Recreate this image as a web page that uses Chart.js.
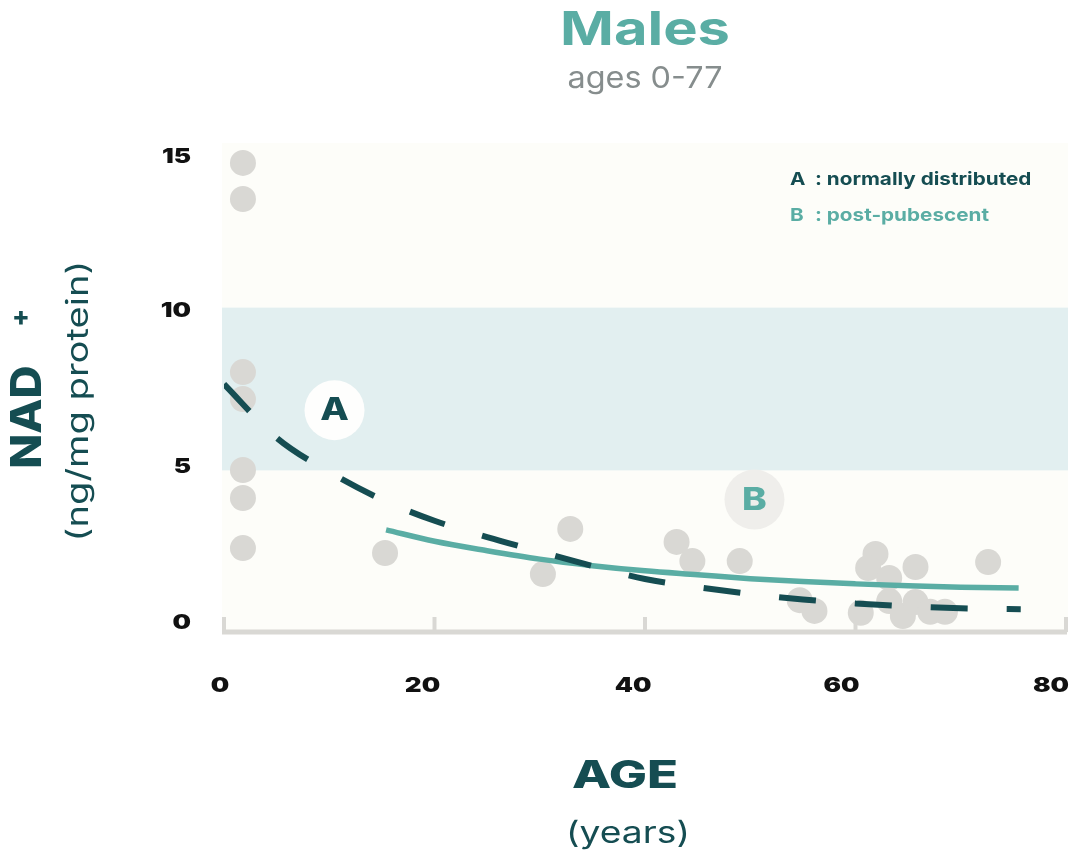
<!DOCTYPE html>
<html>
<head>
<meta charset="utf-8">
<title>Males NAD+ by age</title>
<script src="https://cdn.jsdelivr.net/npm/chart.js@4.4.0/dist/chart.umd.min.js"></script>
<style>
  html, body { margin: 0; padding: 0; background: #ffffff; }
  #wrap { width: 1069px; height: 856px; }
</style>
</head>
<body>
<div id="wrap"><canvas id="myChart" width="1069" height="856"></canvas></div>
<script>
// measured samples: age (years) and NAD+ (ng/mg protein)
var pointAges = [1.8, 1.8, 1.8, 1.8, 1.8, 1.8, 1.8, 15.3, 30.3, 32.9, 43.0, 44.5, 49.0,
                 54.7, 56.1, 60.5, 61.9, 61.2, 63.2, 65.7, 63.2, 64.5, 65.7, 67.1, 68.5, 72.6]
var pointNad = [14.45, 13.34, 8.02, 7.19, 5.01, 4.15, 2.61, 2.46, 1.81, 3.20, 2.80, 2.21, 2.21,
                1.01, 0.68, 0.62, 2.43, 2.00, 1.69, 2.03, 0.98, 0.52, 0.95, 0.65, 0.65, 2.18]

// curve A : normally distributed (dashed)
var curveAAges = [0, 5, 10, 15, 20, 25, 30, 35, 40, 45, 50, 55, 60, 65, 70, 75.7]
var curveANad = [7.65, 6.0, 4.95, 4.1, 3.45, 2.95, 2.5, 2.06, 1.66, 1.41, 1.2, 1.03, 0.91, 0.82, 0.76, 0.73]

// curve B : post-pubescent (solid)
var curveBAges = [15.4, 20, 25, 30, 35, 40, 45, 50, 55, 60, 65, 70, 75.5]
var curveBNad = [3.17, 2.82, 2.53, 2.27, 2.07, 1.91, 1.79, 1.67, 1.58, 1.51, 1.45, 1.41, 1.38]

var xTicks = [0, 20, 40, 60, 80]
var yTicks = [0, 5, 10, 15]
var normalBand = [5, 10]

var markerNames = ['A', 'B']
var markerAges = [10.5, 50.4]
var markerNad = [6.85, 4.1]

var legendKeys = ['A', 'B']
var legendTexts = [': normally distributed', ': post-pubescent']

var darkTeal = '#154d52'
var teal = '#5aada4'
var dotGrey = '#d9d8d4'
var fontName = 'Inter, "Open Sans", sans-serif'

// in the original the tick labels sit a little off their ticks
var xLabelShift = [-4, -12, -12, -14, -15]
var yLabelShift = [-10, -3, 3, 12]

function pairs(xs, ys) {
  return xs.map(function(x, i) { return { x: x, y: ys[i] } })
}

// the original type face is a wide geometric one, so stretch Inter sideways
function wideText(ctx, text, x, y, font, stretch, angle) {
  ctx.save()
  ctx.font = font
  ctx.translate(x, y)
  if (angle) ctx.rotate(angle)
  ctx.scale(stretch, 1)
  ctx.fillText(text, 0, 0)
  ctx.restore()
}

var decorations = {
  id: 'decorations',
  beforeDatasetsDraw: function(chart) {
    var ctx = chart.ctx, a = chart.chartArea
    var xs = chart.scales.x, ys = chart.scales.y
    ctx.save()
    // plot background
    ctx.fillStyle = '#fdfdf9'
    ctx.fillRect(a.left - 2, a.top - 2, a.right - a.left + 4, a.bottom - a.top + 2)
    // normal range band
    var top = ys.getPixelForValue(normalBand[1])
    var bot = ys.getPixelForValue(normalBand[0])
    ctx.fillStyle = '#e2eff0'
    ctx.fillRect(a.left - 2, top, a.right - a.left + 4, bot - top)
    // base line with small upward ticks
    ctx.strokeStyle = dotGrey
    ctx.lineWidth = 5
    ctx.beginPath()
    ctx.moveTo(a.left - 2, a.bottom - 1)
    ctx.lineTo(a.right + 1, a.bottom - 1)
    ctx.stroke()
    ctx.lineWidth = 4
    xTicks.forEach(function(t) {
      var px = xs.getPixelForValue(t)
      ctx.beginPath()
      ctx.moveTo(px, a.bottom - 1)
      ctx.lineTo(px, a.bottom - 16)
      ctx.stroke()
    })
    ctx.restore()
  },
  afterDatasetsDraw: function(chart) {
    var ctx = chart.ctx
    var xs = chart.scales.x, ys = chart.scales.y
    ctx.save()
    ctx.textAlign = 'center'
    ctx.textBaseline = 'middle'
    markerNames.forEach(function(name, i) {
      var px = xs.getPixelForValue(markerAges[i])
      var py = ys.getPixelForValue(markerNad[i])
      ctx.beginPath()
      ctx.arc(px, py, 30, 0, Math.PI * 2)
      ctx.fillStyle = i == 0 ? '#fefefd' : '#efeeeb'
      ctx.fill()
      ctx.fillStyle = i == 0 ? darkTeal : teal
      wideText(ctx, name, px, py + 1, '800 31px ' + fontName, 1.2)
    })
    ctx.restore()
  },
  afterDraw: function(chart) {
    var ctx = chart.ctx, a = chart.chartArea
    var xs = chart.scales.x, ys = chart.scales.y
    var mid = (a.left + a.right) / 2
    ctx.save()
    ctx.textAlign = 'center'
    ctx.textBaseline = 'middle'

    // tick labels
    ctx.fillStyle = '#111111'
    xTicks.forEach(function(t, i) {
      wideText(ctx, String(t), xs.getPixelForValue(t) + xLabelShift[i], 686, '900 20px ' + fontName, 1.3)
    })
    ctx.textAlign = 'right'
    yTicks.forEach(function(t, i) {
      wideText(ctx, String(t), 191, ys.getPixelForValue(t) + yLabelShift[i], '900 20px ' + fontName, 1.3)
    })
    ctx.textAlign = 'center'

    // title
    ctx.fillStyle = teal
    wideText(ctx, 'Males', mid, 31, '700 47px ' + fontName, 1.23)
    ctx.fillStyle = '#868d8d'
    wideText(ctx, 'ages 0-77', mid, 79, '400 30px ' + fontName, 1.08)

    // legend
    ctx.textAlign = 'left'
    legendKeys.forEach(function(k, i) {
      ctx.fillStyle = i == 0 ? darkTeal : teal
      var ly = 180 + i * 36
      wideText(ctx, k, a.right - 276, ly, '700 18px ' + fontName, 1.15)
      wideText(ctx, legendTexts[i], a.right - 251, ly, '700 18px ' + fontName, 1.15)
    })

    // x axis title
    ctx.textAlign = 'center'
    ctx.fillStyle = darkTeal
    wideText(ctx, 'AGE', mid - 20, 777, '800 38px ' + fontName, 1.34)
    wideText(ctx, '(years)', mid - 17, 834, '400 30px ' + fontName, 1.24)

    // y axis title, rotated
    var up = -Math.PI / 2
    wideText(ctx, 'NAD', 28, 417, '800 42px ' + fontName, 1.09, up)
    ctx.save()
    ctx.translate(21, 317)
    ctx.font = '800 26px ' + fontName
    ctx.fillText('+', 0, 0)
    ctx.restore()
    wideText(ctx, '(ng/mg protein)', 79, 401, '400 30px ' + fontName, 1.27, up)

    ctx.restore()
  }
}

function fixBox(size, horizontal) {
  return function(s) {
    if (horizontal) s.height = size
    else s.width = size
    s.paddingLeft = 0
    s.paddingRight = 0
    s.paddingTop = 0
    s.paddingBottom = 0
  }
}

var ctx = document.getElementById('myChart').getContext('2d')
var chart = new Chart(ctx, {
  type: 'scatter',
  data: {
    datasets: [{
      label: 'A',
      data: pairs(curveAAges, curveANad),
      showLine: true,
      borderColor: darkTeal,
      borderWidth: 6,
      borderDash: [37, 39],
      borderCapStyle: 'butt',
      cubicInterpolationMode: 'monotone',
      pointRadius: 0,
      fill: false,
      order: 1
    }, {
      label: 'B',
      data: pairs(curveBAges, curveBNad),
      showLine: true,
      borderColor: teal,
      borderWidth: 5.5,
      cubicInterpolationMode: 'monotone',
      pointRadius: 0,
      fill: false,
      order: 2
    }, {
      label: 'samples',
      data: pairs(pointAges, pointNad),
      backgroundColor: dotGrey,
      borderWidth: 0,
      pointRadius: 13,
      pointHoverRadius: 13,
      order: 3
    }]
  },
  options: {
    responsive: false,
    animation: false,
    devicePixelRatio: 1,
    events: [],
    layout: { autoPadding: false, padding: { top: 145, right: 3, left: 0, bottom: 0 } },
    plugins: {
      legend: { display: false },
      tooltip: { enabled: false }
    },
    scales: {
      x: {
        type: 'linear',
        min: 0,
        max: 80,
        afterBuildTicks: function(s) { s.ticks = xTicks.map(function(v) { return { value: v } }) },
        afterFit: fixBox(856 - 633, true),
        grid: { display: false, drawTicks: false },
        border: { display: false },
        ticks: { display: false }
      },
      y: {
        type: 'linear',
        min: 0,
        max: 15,
        afterBuildTicks: function(s) { s.ticks = yTicks.map(function(v) { return { value: v } }) },
        afterFit: fixBox(224, false),
        grid: { display: false, drawTicks: false },
        border: { display: false },
        ticks: { display: false }
      }
    }
  },
  plugins: [decorations]
})
</script>
</body>
</html>
